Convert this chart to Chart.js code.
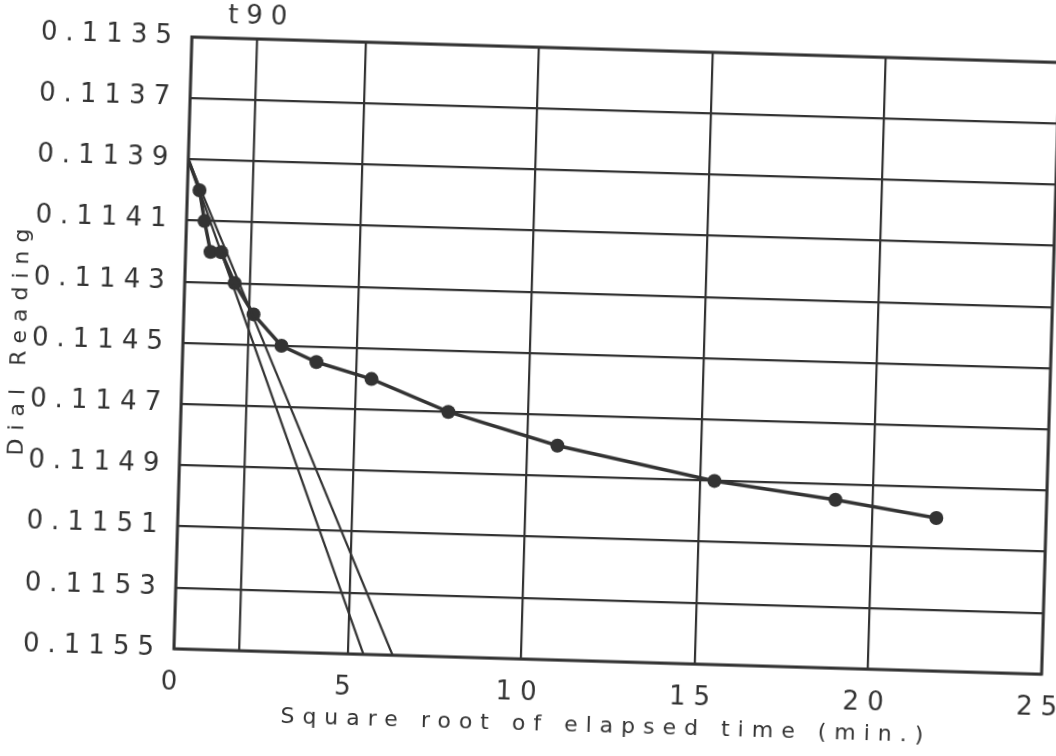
<!DOCTYPE html>
<html>
<head>
<meta charset="utf-8">
<script src="https://cdn.jsdelivr.net/npm/chart.js@4.4.1/dist/chart.umd.min.js"></script>
<style>
  html, body { margin: 0; padding: 0; background: #fff; overflow: hidden; width: 1056px; height: 756px; }
  #wrap { position: absolute; left: 0; top: 0; width: 1120px; height: 756px;
          transform-origin: 528px 378px; transform: rotate(1.68deg); }
</style>
</head>
<body>
<div id="wrap"><canvas id="chart" width="1120" height="756"></canvas></div>
<script>
// square root of elapsed time (min.) and dial readings
const sqrtTime = [0.35, 0.52, 0.72, 1.03, 1.44, 2.01, 2.84, 3.86, 5.46, 7.70, 10.87, 15.42, 18.92, 21.84];
const dialReading = [0.1140, 0.1141, 0.1142, 0.1142, 0.1143, 0.1144, 0.1145, 0.11455, 0.1146, 0.1147, 0.1148, 0.1149, 0.11495, 0.1150];
const startPoint = [0, 0.1139];
const tangentEnd = [5.46, 0.1155];
const correctedEnd = [6.30, 0.1155];
const t90 = 1.88;
const t90Label = 't90';
const xTicks = [0, 5, 10, 15, 20, 25];
const yTicks = [0.1135, 0.1137, 0.1139, 0.1141, 0.1143, 0.1145, 0.1147, 0.1149, 0.1151, 0.1153, 0.1155];

const ink = '#333333';

let readings = [{x: startPoint[0], y: startPoint[1]}];
let radii = [0];
for (let i = 0; i < sqrtTime.length; i++) {
  readings.push({x: sqrtTime[i], y: dialReading[i]});
  radii.push(7);
}

function straight(a, b) {
  return [{x: a[0], y: a[1]}, {x: b[0], y: b[1]}];
}

const spacing = {
  id: 'spacing',
  beforeDraw(chart) { chart.ctx.letterSpacing = '8px'; }
};

const frame = {
  id: 'frame',
  afterDatasetsDraw(chart) {
    const a = chart.chartArea;
    const ctx = chart.ctx;
    ctx.save();
    ctx.strokeStyle = ink;
    ctx.lineWidth = 3;
    ctx.strokeRect(a.left, a.top, a.right - a.left, a.bottom - a.top);
    ctx.fillStyle = ink;
    ctx.font = '26px "DejaVu Sans"';
    ctx.textAlign = 'center';
    ctx.textBaseline = 'middle';
    ctx.fillText(t90Label, chart.scales.x.getPixelForValue(t90) + 4, 25);
    ctx.restore();
  }
};

Chart.defaults.font.family = '"DejaVu Sans"';
Chart.defaults.color = ink;

new Chart(document.getElementById('chart'), {
  type: 'line',
  data: {
    datasets: [
      {
        data: [{x: t90, y: yTicks[0]}, {x: t90, y: yTicks[yTicks.length - 1]}],
        borderColor: ink, borderWidth: 2.2, pointRadius: 0
      },
      {
        data: straight(startPoint, tangentEnd),
        borderColor: ink, borderWidth: 2.2, pointRadius: 0
      },
      {
        data: straight(startPoint, correctedEnd),
        borderColor: ink, borderWidth: 2.2, pointRadius: 0
      },
      {
        data: readings,
        borderColor: ink, backgroundColor: ink, borderWidth: 3.5,
        pointRadius: radii, pointBackgroundColor: ink, pointBorderWidth: 0
      }
    ]
  },
  options: {
    responsive: false,
    animation: false,
    layout: { padding: { top: 47, right: 70, bottom: 0, left: 0 } },
    plugins: { legend: { display: false }, tooltip: { enabled: false } },
    elements: { line: { tension: 0 } },
    scales: {
      x: {
        type: 'linear',
        min: 0, max: 25,
        afterBuildTicks: (scale) => { scale.ticks = xTicks.map(v => ({value: v})); },
        afterFit: (scale) => { scale.height = 97; },
        grid: { color: ink, lineWidth: 2.2, drawTicks: false },
        border: { display: false },
        ticks: { font: { size: 26 }, padding: 19, maxRotation: 0, callback: v => String(v) },
        title: { display: true, text: 'Square root of elapsed time (min.)',
                 font: { size: 22 }, padding: { top: 0, bottom: 19 } }
      },
      y: {
        min: 0.1135, max: 0.1155,
        reverse: true,
        afterBuildTicks: (scale) => { scale.ticks = yTicks.map(v => ({value: v})); },
        afterFit: (scale) => { scale.width = 182; },
        grid: { color: ink, lineWidth: 2.2, drawTicks: false },
        border: { display: false },
        ticks: { font: { size: 26 }, padding: 12, callback: v => v.toFixed(4) },
        title: { display: true, text: 'Dial Reading',
                 font: { size: 22 }, padding: { top: 6, bottom: 0 } }
      }
    }
  },
  plugins: [spacing, frame]
});
</script>
</body>
</html>
